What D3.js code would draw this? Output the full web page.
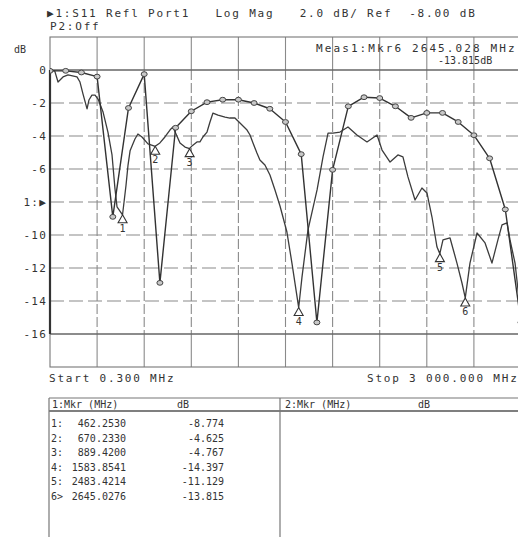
<!DOCTYPE html>
<html>
<head>
<meta charset="utf-8">
<script src="https://cdn.jsdelivr.net/npm/d3@7"></script>
<style>
  body { margin: 0; background: #fff; }
  text { font-family: "DejaVu Sans Mono", monospace; fill: #333; white-space: pre; }
</style>
</head>
<body>
<div id="chart"></div>
<script>
// trace with circle symbols, one point every 100 MHz
const aFreq = [0, 100, 200, 300, 400, 500, 600, 700, 800, 900, 1000, 1100, 1200, 1300, 1400, 1500,
  1600, 1700, 1800, 1900, 2000, 2100, 2200, 2300, 2400, 2500, 2600, 2700, 2800, 2900, 3000];
const aDb = [-0.05, -0.05, -0.15, -0.4, -8.9, -2.3, -0.25, -12.9, -3.5, -2.5, -1.95, -1.8, -1.8, -2.0, -2.35, -3.15,
  -5.1, -15.3, -6.05, -2.2, -1.65, -1.7, -2.2, -2.9, -2.6, -2.6, -3.15, -3.95, -5.35, -8.45, -15.3];

// S11 trace (no symbols)
const bFreq = [0, 30, 51, 83, 115, 172, 191, 210, 236, 248, 267, 287, 306, 338, 369, 395, 414, 427, 462, 484,
  497, 510, 541, 560, 586, 624, 670, 700, 732, 764, 783, 828, 860, 889, 904, 936, 955, 974, 1000, 1019,
  1038, 1070, 1115, 1146, 1178, 1210, 1255, 1274, 1293, 1318, 1337, 1369, 1401, 1433, 1465, 1509, 1541, 1584,
  1605, 1643, 1701, 1739, 1771, 1802, 1847, 1898, 1955, 2019, 2083, 2115, 2166, 2216, 2248, 2280, 2325, 2369,
  2401, 2433, 2465, 2483, 2503, 2548, 2592, 2624, 2645, 2675, 2720, 2771, 2815, 2853, 2879, 2911, 2930, 2962,
  2981, 3000];
const bDb = [0, -0.05, -0.73, -0.42, -0.3, -0.42, -0.73, -1.45, -2.36, -1.82, -1.52, -1.52, -1.76, -2.55, -3.76,
  -5.15, -7.21, -8.3, -8.774, -7.0, -5.76, -4.9, -4.18, -3.88, -4.06, -4.48, -4.625, -4.42, -4.06, -3.64, -3.45,
  -4.42, -4.67, -4.767, -4.6, -4.36, -4.36, -4.06, -3.76, -3.15, -2.61, -2.73, -2.85, -2.91, -2.91, -3.21, -3.64,
  -3.94, -4.42, -5.03, -5.45, -5.76, -6.36, -7.27, -8.24, -9.82, -11.7, -14.397, -12.55, -9.7, -7.27, -5.27,
  -3.82, -3.82, -3.76, -3.45, -3.94, -4.36, -3.94, -4.85, -5.58, -5.15, -5.27, -6.48, -7.88, -7.15, -7.45,
  -8.91, -10.73, -11.129, -10.3, -10.18, -11.7, -12.91, -13.815, -11.7, -9.88, -10.48, -11.7, -10.3, -9.39,
  -9.27, -10.3, -11.7, -13.33, -14.5];

// markers
const mkrNo = [1, 2, 3, 4, 5, 6];
const mkrFreq = [462.2530, 670.2330, 889.4200, 1583.8541, 2483.4214, 2645.0276];
const mkrDb = [-8.774, -4.625, -4.767, -14.397, -11.129, -13.815];

// axes
const xGrid = [300, 600, 900, 1200, 1500, 1800, 2100, 2400, 2700];
const yTicks = [0, -2, -4, -6, -8, -10, -12, -14, -16];
const yLabels = ["0", "-2", "-4", "-6", "1:\u25B6", "-10", "-12", "-14", "-16"];

const W = 518, H = 537;
const svg = d3.select("#chart").append("svg").attr("width", W).attr("height", H);

const x = d3.scaleLinear().domain([0, 3000]).range([50, 521]);
const y = d3.scaleLinear().domain([2, -18]).range([37, 367]);

const grid = svg.append("g");

// vertical grid: solid in the outer rows, dashed in the data band
xGrid.forEach(f => {
  grid.append("line").attr("x1", x(f)).attr("x2", x(f)).attr("y1", y(2)).attr("y2", y(0))
    .attr("stroke", "#8a8a8a").attr("stroke-width", 1.1);
  grid.append("line").attr("x1", x(f)).attr("x2", x(f)).attr("y1", y(0)).attr("y2", y(-16))
    .attr("stroke", "#8a8a8a").attr("stroke-width", 1.1).attr("stroke-dasharray", "10,3");
  grid.append("line").attr("x1", x(f)).attr("x2", x(f)).attr("y1", y(-16)).attr("y2", y(-18))
    .attr("stroke", "#8a8a8a").attr("stroke-width", 1.1);
});

yTicks.forEach(v => {
  const solid = (v === 0 || v === -16);
  grid.append("line").attr("x1", x(0)).attr("x2", x(3000)).attr("y1", y(v)).attr("y2", y(v))
    .attr("stroke", solid ? "#666" : "#8a8a8a")
    .attr("stroke-width", solid ? 1.5 : 1.1)
    .attr("stroke-dasharray", solid ? null : "14,5");
});

// frame
grid.append("rect").attr("x", x(0)).attr("y", y(2))
  .attr("width", x(3000) - x(0)).attr("height", y(-18) - y(2))
  .attr("fill", "none").attr("stroke", "#777").attr("stroke-width", 1.1);
grid.append("line").attr("x1", x(0)).attr("x2", x(0)).attr("y1", y(0)).attr("y2", y(-16))
  .attr("stroke", "#333").attr("stroke-width", 2.2);

// y labels
svg.selectAll(".ylab").data(yTicks).enter().append("text")
  .attr("class", "ylab")
  .attr("x", 47).attr("y", d => y(d) + 4)
  .attr("text-anchor", "end")
  .style("font-size", "11px").style("letter-spacing", "1.2px")
  .text((d, i) => yLabels[i]);

svg.append("text").attr("x", 14).attr("y", 53).style("font-size", "10px").text("dB");

// traces
svg.append("clipPath").attr("id", "clip").append("rect")
  .attr("x", x(0)).attr("y", y(2)).attr("width", x(3000) - x(0)).attr("height", y(-18) - y(2));
const plot = svg.append("g").attr("clip-path", "url(#clip)");

const line = d3.line().x(d => x(d[0])).y(d => y(d[1]));
const aPts = aFreq.map((f, i) => [f, aDb[i]]);
const bPts = bFreq.map((f, i) => [f, bDb[i]]);

plot.append("path").attr("d", line(bPts)).attr("fill", "none")
  .attr("stroke", "#3c3c3c").attr("stroke-width", 1.3).attr("stroke-linejoin", "round");
plot.append("path").attr("d", line(aPts)).attr("fill", "none")
  .attr("stroke", "#333").attr("stroke-width", 1.4).attr("stroke-linejoin", "round");
plot.selectAll(".sym").data(aPts).enter().append("ellipse")
  .attr("class", "sym")
  .attr("cx", d => x(d[0])).attr("cy", d => y(d[1]))
  .attr("rx", 3).attr("ry", 2.4)
  .attr("fill", "#c8c8c8").attr("stroke", "#444").attr("stroke-width", 1);

// marker triangles with numbers
const mk = plot.selectAll(".mkr").data(mkrNo).enter().append("g")
  .attr("class", "mkr")
  .attr("transform", (d, i) => `translate(${x(mkrFreq[i])},${y(mkrDb[i])})`);
mk.append("path").attr("d", "M0,0 L4.5,8 L-4.5,8 Z")
  .attr("fill", "#fff").attr("stroke", "#333").attr("stroke-width", 1.1);
mk.append("text").attr("x", 0).attr("y", 17).attr("text-anchor", "middle")
  .style("font-size", "10px").text(d => d);

// header
svg.append("text").attr("x", 47).attr("y", 17)
  .style("font-size", "11px").style("letter-spacing", "1.8px")
  .text("\u25B61:S11 Refl Port1   Log Mag   2.0 dB/ Ref  -8.00 dB");
svg.append("text").attr("x", 50).attr("y", 30)
  .style("font-size", "11px").style("letter-spacing", "1.8px")
  .text("P2:Off");

// active marker readout
svg.append("text").attr("x", 316).attr("y", 52)
  .style("font-size", "11px").style("letter-spacing", "2.1px")
  .text("Meas1:Mkr" + mkrNo[5] + " " + mkrFreq[5].toFixed(3) + " MHz");
svg.append("text").attr("x", 438).attr("y", 64)
  .style("font-size", "10px")
  .text(mkrDb[5].toFixed(3) + "dB");

// start / stop
svg.append("text").attr("x", 49).attr("y", 382)
  .style("font-size", "11px").style("letter-spacing", "1.8px")
  .text("Start 0.300 MHz");
svg.append("text").attr("x", 367).attr("y", 382)
  .style("font-size", "11px").style("letter-spacing", "1.8px")
  .text("Stop 3 000.000 MHz");

// marker table
const tbl = svg.append("g");
tbl.append("line").attr("x1", 49).attr("x2", W).attr("y1", 398).attr("y2", 398).attr("stroke", "#777").attr("stroke-width", 1.2);
tbl.append("line").attr("x1", 49).attr("x2", W).attr("y1", 411).attr("y2", 411).attr("stroke", "#555").attr("stroke-width", 1.4);
tbl.append("line").attr("x1", 49).attr("x2", 49).attr("y1", 398).attr("y2", H).attr("stroke", "#777").attr("stroke-width", 1.2);
tbl.append("line").attr("x1", 280).attr("x2", 280).attr("y1", 398).attr("y2", H).attr("stroke", "#777").attr("stroke-width", 1.2);

tbl.append("text").attr("x", 52).attr("y", 408).style("font-size", "10px").text("1:Mkr (MHz)");
tbl.append("text").attr("x", 177).attr("y", 408).style("font-size", "10px").text("dB");
tbl.append("text").attr("x", 285).attr("y", 408).style("font-size", "10px").text("2:Mkr (MHz)");
tbl.append("text").attr("x", 418).attr("y", 408).style("font-size", "10px").text("dB");

const rows = tbl.selectAll(".row").data(mkrNo).enter().append("g")
  .attr("class", "row")
  .attr("transform", (d, i) => `translate(0,${427 + i * 14.6})`);
rows.append("text").attr("x", 51).style("font-size", "10px")
  .text(d => d + (d === 6 ? ">" : ":"));
rows.append("text").attr("x", 126).attr("text-anchor", "end").style("font-size", "10px")
  .text((d, i) => mkrFreq[i].toFixed(4));
rows.append("text").attr("x", 224).attr("text-anchor", "end").style("font-size", "10px")
  .text((d, i) => mkrDb[i].toFixed(3));
</script>
</body>
</html>
